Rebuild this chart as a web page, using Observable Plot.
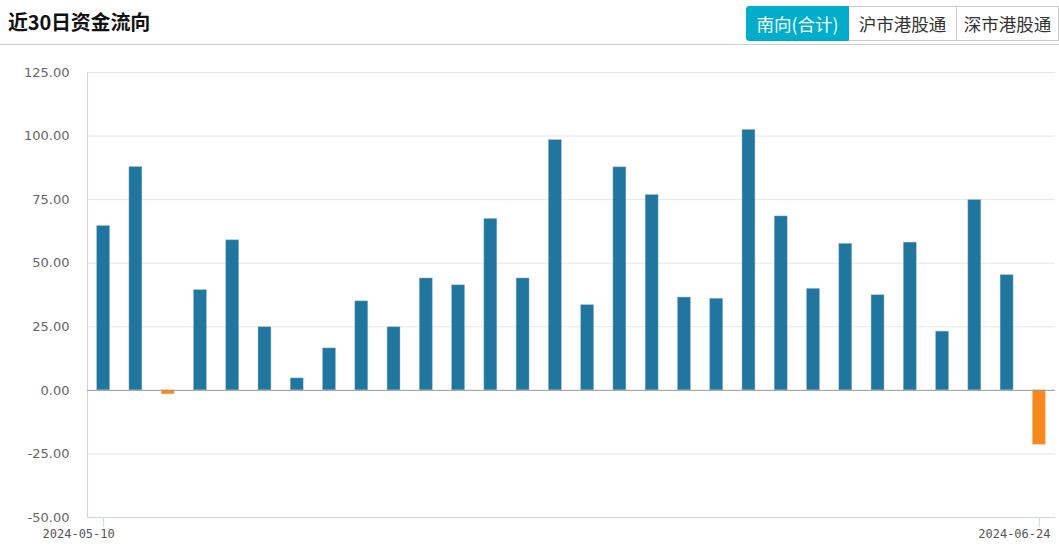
<!DOCTYPE html>
<html>
<head>
<meta charset="utf-8">
<script src="https://cdn.jsdelivr.net/npm/d3@7"></script>
<script src="https://cdn.jsdelivr.net/npm/@observablehq/plot@0.6"></script>
<style>
  html, body { margin: 0; padding: 0; background: #fff; }
  body { width: 1059px; height: 550px; overflow: hidden; font-family: "Noto Sans CJK SC", "Noto Sans", sans-serif; }
  .header { position: relative; height: 44px; border-bottom: 1px solid #ccc; }
  .title { position: absolute; left: 8px; top: 8px; font-size: 20px; font-weight: bold; color: #111; line-height: 28px; letter-spacing: -0.2px; }
  .tabs { position: absolute; right: 0; top: 6px; display: flex; height: 35px; }
  .tab { box-sizing: border-box; height: 35px; line-height: 33px; font-size: 17.5px; color: #333; border: 1px solid #ccc; border-left: none; text-align: center; }
  .tab.active { background: #00aecb; color: #fff; border: 1px solid #00aecb; border-radius: 3px 0 0 3px; }
  #chart { display: block; }
</style>
</head>
<body>
<div class="header">
  <div class="title">近30日资金流向</div>
  <div class="tabs">
    <div class="tab active" style="width:103px">南向(合计)</div>
    <div class="tab" style="width:108px">沪市港股通</div>
    <div class="tab" style="width:102px">深市港股通</div>
  </div>
</div>
<div id="chart"></div>
<script>
const dates = [
  "2024-05-10","2024-05-13","2024-05-14","2024-05-16","2024-05-17",
  "2024-05-20","2024-05-21","2024-05-22","2024-05-23","2024-05-24",
  "2024-05-27","2024-05-28","2024-05-29","2024-05-30","2024-05-31",
  "2024-06-03","2024-06-04","2024-06-05","2024-06-06","2024-06-07",
  "2024-06-11","2024-06-12","2024-06-13","2024-06-14","2024-06-17",
  "2024-06-18","2024-06-19","2024-06-20","2024-06-21","2024-06-24"
];
const values = [
  64.6, 87.8, -1.6, 39.4, 59.0,
  24.8, 4.7, 16.5, 35.0, 24.8,
  44.0, 41.3, 67.4, 44.0, 98.4,
  33.5, 87.7, 76.8, 36.5, 36.0,
  102.4, 68.4, 39.9, 57.6, 37.4,
  58.1, 23.1, 74.8, 45.3, -21.4
];
const yTicks = [-50, -25, 0, 25, 50, 75, 100, 125];
const xTickLabels = ["2024-05-10", "2024-06-24"];
const colorPos = "#2176a0";
const colorNeg = "#f7891e";

const data = dates.map((d, i) => ({date: d, value: values[i]}));

const chart = Plot.plot({
  width: 1059,
  height: 505,
  marginTop: 27,
  marginBottom: 33,
  marginLeft: 87,
  marginRight: 4,
  style: { fontFamily: "'DejaVu Sans', sans-serif", background: "#fff" },
  x: { type: "band", domain: dates, paddingInner: 0.6, paddingOuter: 0.3, round: false, axis: null },
  y: { domain: [-50, 125], axis: null },
  marks: [
    Plot.gridY(yTicks.filter(t => t !== 0 && t !== -50), { stroke: "#e6e6e6", strokeOpacity: 1 }),
    Plot.ruleY([-50], { stroke: "#ccd6eb" }),
    Plot.frame({ anchor: "left", stroke: "#ccd6eb" }),
    Plot.barY(data, {
      x: "date", y: "value",
      fill: d => d.value >= 0 ? colorPos : colorNeg,
      stroke: d => d.value >= 0 ? "#8fb8cf" : "#fbc48e",
      strokeWidth: 0.6, strokeOpacity: 0.7
    }),
    Plot.ruleY([0], { stroke: "#999" }),
    Plot.axisY({
      ticks: yTicks, tickSize: 0, tickPadding: 18,
      tickFormat: d => d.toFixed(2),
      fontSize: 13, color: "#666", label: null
    }),
    Plot.axisX({
      ticks: xTickLabels, tickSize: 10, text: null, stroke: "#ccd6eb", label: null
    }),
    Plot.axisX({
      ticks: xTickLabels, tickSize: 0, tickPadding: 12, dx: -25,
      fontSize: 12, fontFamily: "'DejaVu Sans Mono', monospace",
      color: "#555", label: null
    })
  ]
});
document.getElementById("chart").appendChild(chart);
</script>
</body>
</html>
